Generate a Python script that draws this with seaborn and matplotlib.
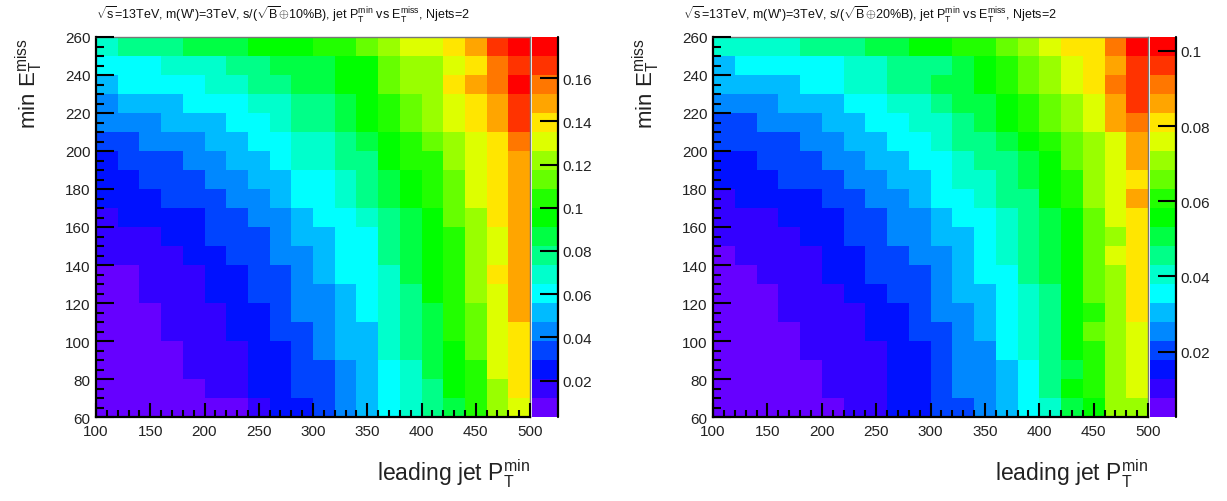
import numpy as np
import pandas as pd
import matplotlib
matplotlib.use("Agg")
import matplotlib.pyplot as plt
from matplotlib.colors import ListedColormap
from matplotlib.ticker import MultipleLocator, FixedLocator, FuncFormatter
import seaborn as sns

# ---------------- data ----------------
# bin low edges
jet_pt_bins = [100, 120, 140, 160, 180, 200, 220, 240, 260, 280,
               300, 320, 340, 360, 380, 400, 420, 440, 460, 480]
met_bins = [60, 70, 80, 90, 100, 110, 120, 130, 140, 150,
            160, 170, 180, 190, 200, 210, 220, 230, 240, 250]
x_ticks = [100, 150, 200, 250, 300, 350, 400, 450, 500]
y_ticks = [60, 80, 100, 120, 140, 160, 180, 200, 220, 240, 260]

# significance s/(sqrt(B) (+) 10%B), in units of 1e-3; rows = MET bins (60 -> 250)
sig_10pct = [
    [8, 8, 8, 8, 8, 8, 8, 16, 25, 25, 34, 43, 52, 60, 69, 78, 87, 104, 122, 131],
    [8, 8, 8, 8, 8, 16, 16, 25, 25, 34, 34, 43, 52, 60, 69, 78, 96, 104, 122, 140],
    [8, 8, 8, 8, 16, 16, 16, 25, 25, 34, 34, 43, 52, 60, 69, 87, 96, 104, 131, 140],
    [8, 8, 8, 8, 16, 16, 16, 25, 25, 34, 43, 52, 52, 69, 78, 87, 96, 113, 131, 140],
    [8, 8, 8, 16, 16, 16, 25, 25, 34, 34, 43, 52, 52, 69, 78, 87, 104, 113, 131, 140],
    [8, 8, 8, 16, 16, 16, 25, 25, 34, 43, 43, 52, 60, 69, 78, 87, 104, 113, 131, 148],
    [8, 8, 16, 16, 16, 25, 25, 34, 34, 43, 43, 52, 60, 69, 78, 96, 104, 122, 131, 148],
    [8, 8, 16, 16, 16, 25, 25, 34, 34, 43, 52, 60, 60, 69, 87, 96, 104, 122, 140, 148],
    [16, 16, 16, 16, 25, 25, 34, 34, 43, 43, 52, 60, 60, 78, 87, 96, 104, 122, 131, 148],
    [16, 16, 16, 25, 25, 34, 34, 34, 43, 52, 52, 60, 60, 78, 87, 96, 104, 122, 131, 148],
    [16, 25, 25, 25, 25, 34, 34, 43, 43, 52, 60, 60, 69, 78, 87, 96, 113, 122, 140, 148],
    [25, 25, 25, 34, 34, 34, 43, 43, 52, 60, 60, 69, 78, 87, 96, 104, 113, 131, 140, 148],
    [25, 25, 34, 34, 34, 43, 43, 52, 52, 60, 60, 69, 78, 87, 96, 104, 113, 131, 140, 148],
    [25, 34, 34, 34, 43, 43, 52, 52, 60, 69, 69, 78, 78, 96, 104, 104, 122, 131, 140, 148],
    [34, 34, 43, 43, 43, 52, 52, 60, 60, 69, 69, 78, 87, 96, 104, 113, 122, 131, 140, 157],
    [43, 43, 43, 52, 52, 52, 60, 60, 69, 78, 78, 87, 96, 104, 113, 122, 131, 140, 148, 166],
    [43, 52, 52, 52, 60, 60, 60, 69, 69, 78, 78, 87, 96, 104, 113, 122, 131, 140, 148, 166],
    [52, 60, 60, 60, 60, 69, 69, 78, 78, 87, 87, 96, 96, 113, 122, 122, 140, 148, 157, 175],
    [60, 60, 60, 69, 69, 69, 78, 78, 87, 87, 87, 96, 96, 113, 122, 122, 131, 140, 157, 166],
    [69, 78, 78, 78, 87, 87, 87, 96, 96, 96, 104, 104, 113, 122, 131, 131, 140, 148, 166, 175],
]

# significance s/(sqrt(B) (+) 20%B), in units of 1e-3
sig_20pct = [
    [5.1, 5.1, 5.1, 5.1, 5.1, 5.1, 10.2, 10.2, 15.2, 15.2, 20.3, 20.3, 25.3, 30.4, 35.5, 40.5, 50.6, 55.7, 70.9, 70.9],
    [5.1, 5.1, 5.1, 5.1, 5.1, 10.2, 10.2, 10.2, 15.2, 15.2, 20.3, 25.3, 25.3, 30.4, 35.5, 45.6, 55.7, 60.8, 70.9, 75.9],
    [5.1, 5.1, 5.1, 5.1, 5.1, 10.2, 10.2, 10.2, 15.2, 15.2, 20.3, 25.3, 25.3, 30.4, 35.5, 45.6, 50.6, 60.8, 70.9, 75.9],
    [5.1, 5.1, 5.1, 5.1, 10.2, 10.2, 10.2, 10.2, 15.2, 15.2, 20.3, 25.3, 25.3, 35.5, 40.5, 45.6, 55.7, 60.8, 70.9, 75.9],
    [5.1, 5.1, 5.1, 5.1, 10.2, 10.2, 10.2, 15.2, 15.2, 20.3, 20.3, 25.3, 30.4, 35.5, 40.5, 45.6, 55.7, 65.8, 70.9, 75.9],
    [5.1, 5.1, 5.1, 10.2, 10.2, 10.2, 10.2, 15.2, 15.2, 20.3, 25.3, 25.3, 30.4, 35.5, 40.5, 45.6, 55.7, 60.8, 70.9, 81.0],
    [5.1, 5.1, 5.1, 10.2, 10.2, 10.2, 15.2, 15.2, 20.3, 20.3, 25.3, 30.4, 30.4, 35.5, 40.5, 45.6, 55.7, 65.8, 70.9, 81.0],
    [5.1, 5.1, 10.2, 10.2, 10.2, 15.2, 15.2, 20.3, 20.3, 20.3, 25.3, 30.4, 35.5, 35.5, 45.6, 50.6, 55.7, 65.8, 70.9, 81.0],
    [5.1, 10.2, 10.2, 10.2, 10.2, 15.2, 15.2, 20.3, 20.3, 25.3, 25.3, 30.4, 35.5, 40.5, 45.6, 50.6, 55.7, 65.8, 75.9, 81.0],
    [10.2, 10.2, 10.2, 10.2, 15.2, 15.2, 20.3, 20.3, 25.3, 25.3, 30.4, 30.4, 35.5, 40.5, 45.6, 50.6, 55.7, 65.8, 70.9, 81.0],
    [10.2, 10.2, 10.2, 15.2, 15.2, 15.2, 20.3, 20.3, 25.3, 25.3, 30.4, 35.5, 35.5, 40.5, 45.6, 50.6, 55.7, 65.8, 75.9, 81.0],
    [10.2, 15.2, 15.2, 15.2, 15.2, 20.3, 20.3, 25.3, 25.3, 30.4, 35.5, 35.5, 40.5, 45.6, 45.6, 55.7, 60.8, 70.9, 75.9, 86.0],
    [15.2, 15.2, 15.2, 20.3, 20.3, 20.3, 25.3, 25.3, 30.4, 30.4, 35.5, 40.5, 40.5, 45.6, 50.6, 55.7, 60.8, 70.9, 75.9, 81.0],
    [15.2, 15.2, 20.3, 20.3, 20.3, 25.3, 25.3, 30.4, 30.4, 35.5, 35.5, 40.5, 45.6, 45.6, 50.6, 55.7, 65.8, 70.9, 75.9, 86.0],
    [20.3, 20.3, 20.3, 20.3, 25.3, 25.3, 30.4, 30.4, 35.5, 35.5, 40.5, 45.6, 45.6, 50.6, 55.7, 60.8, 65.8, 70.9, 75.9, 86.0],
    [20.3, 20.3, 25.3, 25.3, 25.3, 30.4, 30.4, 35.5, 35.5, 40.5, 40.5, 45.6, 50.6, 55.7, 60.8, 65.8, 70.9, 75.9, 86.0, 91.1],
    [25.3, 25.3, 25.3, 30.4, 30.4, 30.4, 35.5, 35.5, 40.5, 40.5, 45.6, 50.6, 50.6, 55.7, 60.8, 65.8, 70.9, 75.9, 86.0, 96.1],
    [30.4, 30.4, 30.4, 30.4, 35.5, 35.5, 40.5, 40.5, 45.6, 45.6, 50.6, 50.6, 55.7, 60.8, 65.8, 70.9, 75.9, 81.0, 91.1, 96.1],
    [30.4, 35.5, 35.5, 35.5, 35.5, 35.5, 40.5, 40.5, 45.6, 45.6, 45.6, 50.6, 55.7, 60.8, 65.8, 70.9, 75.9, 81.0, 86.0, 96.1],
    [40.5, 40.5, 40.5, 40.5, 45.6, 45.6, 45.6, 50.6, 50.6, 55.7, 55.7, 60.8, 60.8, 65.8, 70.9, 75.9, 81.0, 81.0, 91.1, 101.2],
]

# colour-scale ranges (z axis) and colorbar ticks
z_range_10 = (0.0032, 0.179)
z_range_20 = (0.0026, 0.1037)
cbar_ticks_10 = [0.02, 0.04, 0.06, 0.08, 0.10, 0.12, 0.14, 0.16]
cbar_ticks_20 = [0.02, 0.04, 0.06, 0.08, 0.10]

titles = [
    r"$\sqrt{\mathregular{s}}$=13TeV, m(W')=3TeV, s/($\sqrt{\mathregular{B}}$$\oplus$10%B), jet $\mathregular{P_{T}^{min}}$ vs $\mathregular{E_{T}^{miss}}$, Njets=2",
    r"$\sqrt{\mathregular{s}}$=13TeV, m(W')=3TeV, s/($\sqrt{\mathregular{B}}$$\oplus$20%B), jet $\mathregular{P_{T}^{min}}$ vs $\mathregular{E_{T}^{miss}}$, Njets=2",
]
xlabel = r"leading jet $\mathregular{P_{T}^{min}}$"
ylabel = r"min $\mathregular{E_{T}^{miss}}$"

# ROOT-like 20-level rainbow palette
palette20 = ["#6600FF", "#3300FF", "#0011FF", "#0044FF", "#0088FF", "#00BBFF",
             "#00FFFF", "#00FFCC", "#00FF88", "#00FF44", "#00FF00", "#22FF00",
             "#66FF00", "#99FF00", "#DDFF00", "#FFE600", "#FFA500", "#FF7700",
             "#FF3300", "#FF0000"]

# ---------------- style ----------------
sns.set_theme(style="white")
plt.rcParams["font.family"] = ["Liberation Sans", "DejaVu Sans"]
plt.rcParams["mathtext.fontset"] = "custom"
plt.rcParams["mathtext.rm"] = "Liberation Sans"
plt.rcParams["mathtext.it"] = "Liberation Sans:italic"
plt.rcParams["mathtext.bf"] = "Liberation Sans:bold"
plt.rcParams["axes.axisbelow"] = False

W, H = 1227, 502
fig = plt.figure(figsize=(W / 100, H / 100), dpi=100)
fig.patch.set_facecolor("white")

cmap = ListedColormap(palette20)


def px_rect(x0, y0, x1, y1):
    return [x0 / W, 1 - y1 / H, (x1 - x0) / W, (y1 - y0) / H]


panels = [
    dict(data=sig_10pct, zr=z_range_10, cticks=cbar_ticks_10, title=titles[0],
         ax=px_rect(96, 38, 530, 418), cax=px_rect(532, 38, 558, 418), tx=283),
    dict(data=sig_20pct, zr=z_range_20, cticks=cbar_ticks_20, title=titles[1],
         ax=px_rect(713, 38, 1148, 418), cax=px_rect(1150, 38, 1176, 418), tx=870),
]

xw = jet_pt_bins[1] - jet_pt_bins[0]
yw = met_bins[1] - met_bins[0]

for p in panels:
    ax = fig.add_axes(p["ax"])
    cax = fig.add_axes(p["cax"])
    df = pd.DataFrame(np.array(p["data"]) / 1000.0, index=met_bins, columns=jet_pt_bins)
    sns.heatmap(df, ax=ax, cbar_ax=cax, cmap=cmap, vmin=p["zr"][0], vmax=p["zr"][1],
                xticklabels=False, yticklabels=False, linewidths=0)
    ax.invert_yaxis()  # MET increases upward
    ax.set_xlim(0, len(jet_pt_bins))
    ax.set_ylim(0, len(met_bins))
    ax.set_axisbelow(False)
    cax.set_axisbelow(False)

    # axis ticks in data units mapped onto heatmap cells
    ax.xaxis.set_major_locator(FixedLocator([(v - jet_pt_bins[0]) / xw for v in x_ticks]))
    ax.set_xticklabels([str(v) for v in x_ticks])
    ax.xaxis.set_minor_locator(MultipleLocator(10 / xw))
    ax.yaxis.set_major_locator(FixedLocator([(v - met_bins[0]) / yw for v in y_ticks]))
    ax.set_yticklabels([str(v) for v in y_ticks], rotation=0)
    ax.yaxis.set_minor_locator(MultipleLocator(5 / yw))

    ax.tick_params(axis="x", which="major", direction="in", length=10, width=1.5,
                   color="black", labelsize=11, pad=5, bottom=True, top=False,
                   labelcolor="#222222")
    ax.tick_params(axis="x", which="minor", direction="in", length=5, width=1.5,
                   color="black", bottom=True, top=False)
    ax.tick_params(axis="y", which="major", direction="in", length=13, width=1.5,
                   color="black", labelsize=11, pad=4, left=True, right=False,
                   labelcolor="#222222")
    ax.tick_params(axis="y", which="minor", direction="in", length=6, width=1.5,
                   color="black", left=True, right=False)

    for s in ["left", "bottom"]:
        ax.spines[s].set_visible(True)
        ax.spines[s].set_color("black")
        ax.spines[s].set_linewidth(1.6)
    for s in ["top", "right"]:
        ax.spines[s].set_visible(True)
        ax.spines[s].set_color("#777777")
        ax.spines[s].set_linewidth(1.0)

    ax.set_xlabel(xlabel, fontsize=16.5, loc="right", color="#222222")
    ax.xaxis.set_label_coords(1.0, -0.105)
    ax.set_ylabel(ylabel, fontsize=16, loc="top", color="#222222")
    ax.yaxis.set_label_coords(-0.118, 1.0)

    # colorbar styling (ROOT-like)
    cbar = ax.collections[0].colorbar
    cbar.outline.set_visible(False)
    cax.yaxis.set_ticks_position("right")
    cbar.set_ticks(p["cticks"])
    cax.yaxis.set_major_formatter(FuncFormatter(lambda v, pos: f"{v:g}"))
    cax.tick_params(axis="y", which="major", direction="in", length=13, width=1.5,
                    color="black", labelsize=11, pad=3, right=True, left=False,
                    labelcolor="#222222")
    cax.tick_params(axis="y", which="minor", length=0)
    cax.plot([1, 1], [0, 1], transform=cax.transAxes, color="black", lw=1.6,
             clip_on=False, zorder=5)

    fig.text(p["tx"] / W, 1 - 15 / H, p["title"], ha="center", va="center",
             fontsize=9, color="#111111")

fig.savefig("out.png", dpi=100, facecolor="white")
